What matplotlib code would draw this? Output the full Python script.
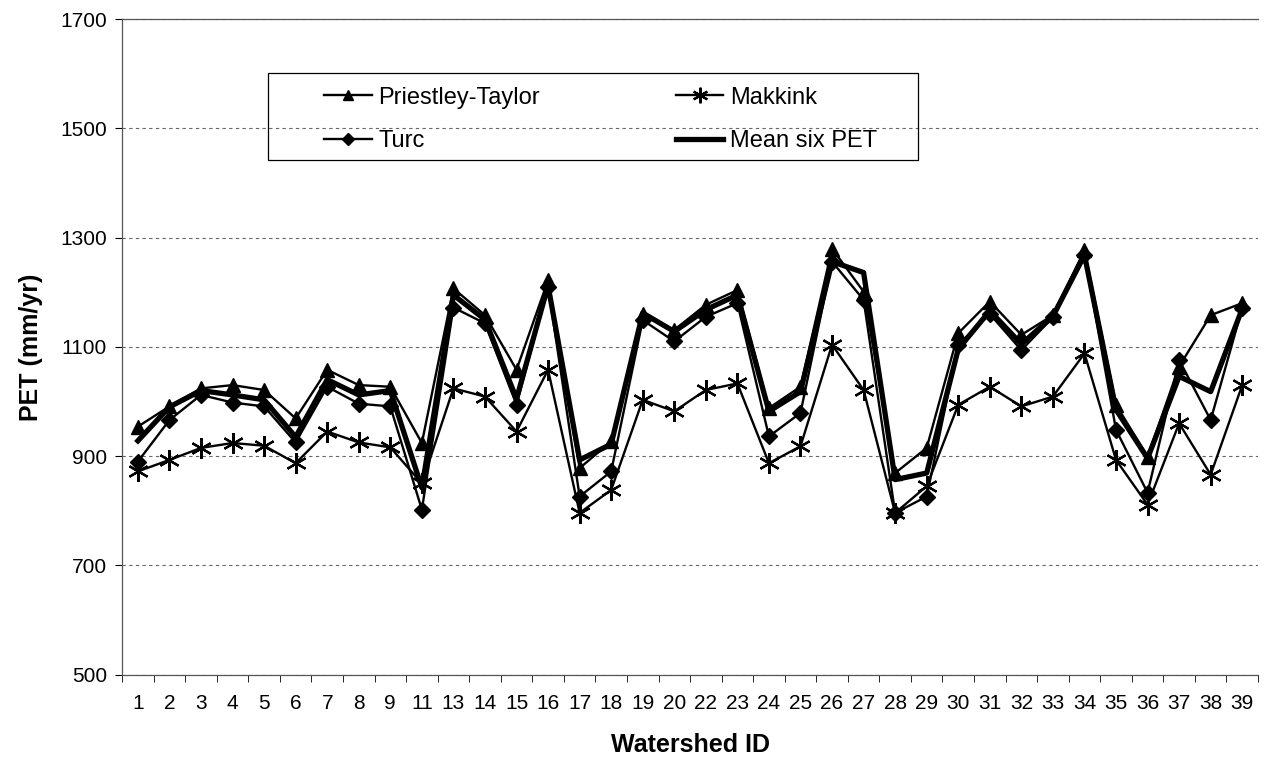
import matplotlib.pyplot as plt
from matplotlib.patches import Rectangle
import numpy as np

plt.rcParams['font.family'] = ['Liberation Sans', 'DejaVu Sans']

# Watershed IDs (10, 12 and 21 are absent)
watershed_ids = ["1", "2", "3", "4", "5", "6", "7", "8", "9", "11", "13", "14",
                 "15", "16", "17", "18", "19", "20", "22", "23", "24", "25", "26",
                 "27", "28", "29", "30", "31", "32", "33", "34", "35", "36", "37",
                 "38", "39"]

priestley_taylor = [954, 991, 1024, 1030, 1021, 969, 1058, 1030, 1027, 924, 1207, 1158,
                    1058, 1222, 878, 927, 1160, 1131, 1177, 1204, 988, 1027, 1280,
                    1201, 869, 915, 1125, 1183, 1122, 1158, 1277, 994, 899, 1064,
                    1158, 1180]
makkink = [872, 893, 915, 924, 919, 887, 945, 925, 916, 850, 1024, 1009,
           945, 1058, 796, 838, 1003, 982, 1021, 1033, 887, 918, 1104,
           1021, 796, 845, 994, 1027, 991, 1009, 1088, 893, 811, 960,
           866, 1030]
turc = [890, 966, 1012, 998, 991, 925, 1027, 996, 991, 802, 1172, 1143,
        994, 1210, 826, 872, 1149, 1110, 1155, 1180, 936, 979, 1256,
        1186, 796, 826, 1104, 1160, 1094, 1154, 1269, 948, 833, 1076,
        966, 1171]
mean_six = [928, 990, 1020, 1012, 1003, 935, 1040, 1012, 1020, 842, 1195, 1150,
            1005, 1212, 893, 922, 1162, 1128, 1168, 1195, 982, 1018, 1256,
            1236, 857, 869, 1096, 1166, 1105, 1156, 1268, 985, 896, 1046,
            1018, 1170]

x = np.arange(len(watershed_ids))

fig, ax = plt.subplots(figsize=(12.72, 7.64), dpi=100)
fig.subplots_adjust(left=0.096, right=0.989, top=0.975, bottom=0.117)

ax.plot(x, priestley_taylor, color='black', lw=1.7, marker='^', ms=10,
        label='Priestley-Taylor')
ax.plot(x, turc, color='black', lw=1.7, marker='D', ms=8.5, label='Turc')
ax.plot(x, makkink, color='black', lw=1.7, marker=(6, 2, 0), ms=15, mew=1.6,
        label='Makkink')
ax.plot(x, mean_six, color='black', lw=3.8, label='Mean six PET')

ax.set_xlim(-0.5, len(x) - 0.5)
ax.set_ylim(500, 1700)
ax.set_yticks(np.arange(500, 1701, 200))
ax.set_xticks(x)
ax.set_xticklabels(watershed_ids)
ax.set_xticks(np.arange(-0.5, len(x), 1), minor=True)
ax.tick_params(axis='x', which='major', length=0, labelsize=15, pad=14)
ax.tick_params(axis='x', which='minor', length=5, direction='out')
ax.tick_params(axis='y', length=5, direction='out', labelsize=15, pad=6)

ax.yaxis.grid(True, linestyle=(0, (3, 3)), color='#666666', lw=0.8)
ax.spines['right'].set_visible(False)
for s in ['left', 'bottom', 'top']:
    ax.spines[s].set_color('#555555')
    ax.spines[s].set_linewidth(0.9)

ax.set_xlabel("Watershed ID", fontsize=18, fontweight='bold', labelpad=14)
ax.set_ylabel("PET (mm/yr)", fontsize=18, fontweight='bold', labelpad=12)

# legend box drawn separately so the padding matches the original
ax.add_patch(Rectangle((0.1285, 0.785), 0.572, 0.133, transform=ax.transAxes,
                       fill=False, edgecolor='black', lw=0.9, zorder=5))
ax.legend(ncol=2, loc='upper left', bbox_to_anchor=(0.178, 0.897),
          fontsize=17, frameon=False, handlelength=2.0, columnspacing=5.75,
          borderpad=0, borderaxespad=0, labelspacing=0.9, handletextpad=0.3,
          markerscale=0.75)

plt.savefig("out.png")
